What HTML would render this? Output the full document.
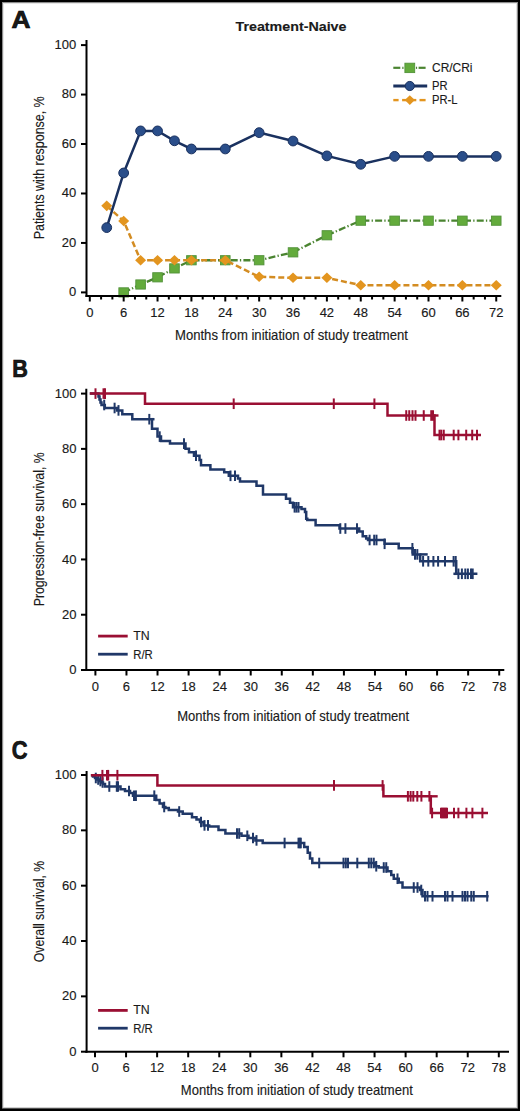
<!DOCTYPE html>
<html><head><meta charset="utf-8"><title>Figure</title>
<style>
html,body{margin:0;padding:0;background:#fff;}
body{width:520px;height:1111px;overflow:hidden;}
svg{display:block;font-family:"Liberation Sans", sans-serif;fill:#1a1a1a;}
svg text{fill:#1a1a1a;stroke:#1a1a1a;stroke-width:0.15px;}
</style></head>
<body>
<svg width="520" height="1111" viewBox="0 0 520 1111">
<rect x="0" y="0" width="520" height="1111" fill="#fff"/>
<g shape-rendering="crispEdges">
<rect x="0" y="3" width="520" height="1" fill="#e6e6e6"/>
<rect x="3" y="0" width="1" height="1111" fill="#e6e6e6"/>
<rect x="516" y="0" width="1" height="1111" fill="#e0e0e0"/>
<rect x="0" y="1107" width="520" height="1" fill="#d0d0d0"/>
<rect x="0" y="2" width="520" height="1" fill="#8c8c8c"/>
<rect x="2" y="0" width="1" height="1111" fill="#8c8c8c"/>
<rect x="517" y="0" width="1" height="1111" fill="#888"/>
<rect x="0" y="1108" width="520" height="1" fill="#505050"/>
<rect x="0" y="0" width="520" height="2" fill="#000"/>
<rect x="0" y="0" width="2" height="1111" fill="#000"/>
<rect x="518" y="0" width="2" height="1111" fill="#000"/>
<rect x="0" y="1109" width="520" height="2" fill="#000"/>
</g>
<text x="11.6" y="28.3" font-size="24" text-anchor="start" font-weight="bold" textLength="19" lengthAdjust="spacingAndGlyphs" style="stroke:#000;stroke-width:0.7px">A</text>
<text x="291" y="31.2" font-size="13.4" text-anchor="middle" font-weight="bold" textLength="111" lengthAdjust="spacingAndGlyphs" >Treatment-Naive</text>
<polyline points="123.67,292.4 140.6,284.49 157.54,277.31 174.47,268.41 191.41,260.25 225.28,260.25 259.15,260.25 293.02,252.34 326.89,235.27 360.76,220.68 394.63,220.68 428.5,220.68 462.37,220.68 496.24,220.68" fill="none" stroke="#4a8430" stroke-width="2.3" stroke-dasharray="7 2.2 1.3 2.2"/>
<rect x="118.87" y="287.8" width="9.6" height="9.2" fill="#63ab3c" stroke="#52923a" stroke-width="0.9"/>
<rect x="135.8" y="279.89" width="9.6" height="9.2" fill="#63ab3c" stroke="#52923a" stroke-width="0.9"/>
<rect x="152.74" y="272.71" width="9.6" height="9.2" fill="#63ab3c" stroke="#52923a" stroke-width="0.9"/>
<rect x="169.67" y="263.81" width="9.6" height="9.2" fill="#63ab3c" stroke="#52923a" stroke-width="0.9"/>
<rect x="186.61" y="255.65" width="9.6" height="9.2" fill="#63ab3c" stroke="#52923a" stroke-width="0.9"/>
<rect x="220.48" y="255.65" width="9.6" height="9.2" fill="#63ab3c" stroke="#52923a" stroke-width="0.9"/>
<rect x="254.35" y="255.65" width="9.6" height="9.2" fill="#63ab3c" stroke="#52923a" stroke-width="0.9"/>
<rect x="288.22" y="247.74" width="9.6" height="9.2" fill="#63ab3c" stroke="#52923a" stroke-width="0.9"/>
<rect x="322.09" y="230.67" width="9.6" height="9.2" fill="#63ab3c" stroke="#52923a" stroke-width="0.9"/>
<rect x="355.96" y="216.08" width="9.6" height="9.2" fill="#63ab3c" stroke="#52923a" stroke-width="0.9"/>
<rect x="389.83" y="216.08" width="9.6" height="9.2" fill="#63ab3c" stroke="#52923a" stroke-width="0.9"/>
<rect x="423.7" y="216.08" width="9.6" height="9.2" fill="#63ab3c" stroke="#52923a" stroke-width="0.9"/>
<rect x="457.57" y="216.08" width="9.6" height="9.2" fill="#63ab3c" stroke="#52923a" stroke-width="0.9"/>
<rect x="491.44" y="216.08" width="9.6" height="9.2" fill="#63ab3c" stroke="#52923a" stroke-width="0.9"/>
<polyline points="106.73,205.84 123.67,220.93 140.6,260.25 157.54,260.25 174.47,260.25 191.41,260.25 225.28,260.25 259.15,276.82 293.02,277.81 326.89,277.81 360.76,285.23 394.63,285.23 428.5,285.23 462.37,285.23 496.24,285.23" fill="none" stroke="#d38c22" stroke-width="2.5" stroke-dasharray="6 3"/>
<polygon points="106.73,200.54 112.23,205.84 106.73,211.14 101.23,205.84" fill="#e3951f"/>
<polygon points="123.67,215.63 129.17,220.93 123.67,226.23 118.17,220.93" fill="#e3951f"/>
<polygon points="140.6,254.95 146.1,260.25 140.6,265.55 135.1,260.25" fill="#e3951f"/>
<polygon points="157.54,254.95 163.04,260.25 157.54,265.55 152.04,260.25" fill="#e3951f"/>
<polygon points="174.47,254.95 179.97,260.25 174.47,265.55 168.97,260.25" fill="#e3951f"/>
<polygon points="191.41,254.95 196.91,260.25 191.41,265.55 185.91,260.25" fill="#e3951f"/>
<polygon points="225.28,254.95 230.78,260.25 225.28,265.55 219.78,260.25" fill="#e3951f"/>
<polygon points="259.15,271.52 264.65,276.82 259.15,282.12 253.65,276.82" fill="#e3951f"/>
<polygon points="293.02,272.51 298.52,277.81 293.02,283.11 287.52,277.81" fill="#e3951f"/>
<polygon points="326.89,272.51 332.39,277.81 326.89,283.11 321.39,277.81" fill="#e3951f"/>
<polygon points="360.76,279.93 366.26,285.23 360.76,290.53 355.26,285.23" fill="#e3951f"/>
<polygon points="394.63,279.93 400.13,285.23 394.63,290.53 389.13,285.23" fill="#e3951f"/>
<polygon points="428.5,279.93 434,285.23 428.5,290.53 423,285.23" fill="#e3951f"/>
<polygon points="462.37,279.93 467.87,285.23 462.37,290.53 456.87,285.23" fill="#e3951f"/>
<polygon points="496.24,279.93 501.74,285.23 496.24,290.53 490.74,285.23" fill="#e3951f"/>
<polyline points="106.73,227.61 123.67,172.95 140.6,130.91 157.54,130.91 174.47,140.81 191.41,148.97 225.28,148.97 259.15,132.64 293.02,141.05 326.89,155.89 360.76,164.3 394.63,156.38 428.5,156.38 462.37,156.38 496.24,156.38" fill="none" stroke="#1a315f" stroke-width="2.5"/>
<circle cx="106.73" cy="227.61" r="4.9" fill="#2a4e8a" stroke="#1a315f" stroke-width="1"/>
<circle cx="123.67" cy="172.95" r="4.9" fill="#2a4e8a" stroke="#1a315f" stroke-width="1"/>
<circle cx="140.6" cy="130.91" r="4.9" fill="#2a4e8a" stroke="#1a315f" stroke-width="1"/>
<circle cx="157.54" cy="130.91" r="4.9" fill="#2a4e8a" stroke="#1a315f" stroke-width="1"/>
<circle cx="174.47" cy="140.81" r="4.9" fill="#2a4e8a" stroke="#1a315f" stroke-width="1"/>
<circle cx="191.41" cy="148.97" r="4.9" fill="#2a4e8a" stroke="#1a315f" stroke-width="1"/>
<circle cx="225.28" cy="148.97" r="4.9" fill="#2a4e8a" stroke="#1a315f" stroke-width="1"/>
<circle cx="259.15" cy="132.64" r="4.9" fill="#2a4e8a" stroke="#1a315f" stroke-width="1"/>
<circle cx="293.02" cy="141.05" r="4.9" fill="#2a4e8a" stroke="#1a315f" stroke-width="1"/>
<circle cx="326.89" cy="155.89" r="4.9" fill="#2a4e8a" stroke="#1a315f" stroke-width="1"/>
<circle cx="360.76" cy="164.3" r="4.9" fill="#2a4e8a" stroke="#1a315f" stroke-width="1"/>
<circle cx="394.63" cy="156.38" r="4.9" fill="#2a4e8a" stroke="#1a315f" stroke-width="1"/>
<circle cx="428.5" cy="156.38" r="4.9" fill="#2a4e8a" stroke="#1a315f" stroke-width="1"/>
<circle cx="462.37" cy="156.38" r="4.9" fill="#2a4e8a" stroke="#1a315f" stroke-width="1"/>
<circle cx="496.24" cy="156.38" r="4.9" fill="#2a4e8a" stroke="#1a315f" stroke-width="1"/>
<line x1="86.5" y1="40" x2="86.5" y2="297" stroke="#000" stroke-width="2" />
<line x1="81" y1="292.4" x2="86.5" y2="292.4" stroke="#000" stroke-width="2" />
<text x="76.3" y="296.2" font-size="13" text-anchor="end" font-weight="normal" >0</text>
<line x1="81" y1="242.94" x2="86.5" y2="242.94" stroke="#000" stroke-width="2" />
<text x="76.3" y="246.74" font-size="13" text-anchor="end" font-weight="normal" >20</text>
<line x1="81" y1="193.48" x2="86.5" y2="193.48" stroke="#000" stroke-width="2" />
<text x="76.3" y="197.28" font-size="13" text-anchor="end" font-weight="normal" >40</text>
<line x1="81" y1="144.02" x2="86.5" y2="144.02" stroke="#000" stroke-width="2" />
<text x="76.3" y="147.82" font-size="13" text-anchor="end" font-weight="normal" >60</text>
<line x1="81" y1="94.56" x2="86.5" y2="94.56" stroke="#000" stroke-width="2" />
<text x="76.3" y="98.36" font-size="13" text-anchor="end" font-weight="normal" >80</text>
<line x1="81" y1="45.1" x2="86.5" y2="45.1" stroke="#000" stroke-width="2" />
<text x="76.3" y="48.9" font-size="13" text-anchor="end" font-weight="normal" >100</text>
<line x1="85.5" y1="296" x2="501.3" y2="296" stroke="#000" stroke-width="2" />
<line x1="89.8" y1="296" x2="89.8" y2="301.5" stroke="#000" stroke-width="2" />
<text x="89.8" y="317" font-size="13" text-anchor="middle" font-weight="normal" >0</text>
<line x1="101.09" y1="296" x2="101.09" y2="299.5" stroke="#000" stroke-width="2" />
<line x1="112.38" y1="296" x2="112.38" y2="299.5" stroke="#000" stroke-width="2" />
<line x1="123.67" y1="296" x2="123.67" y2="301.5" stroke="#000" stroke-width="2" />
<text x="123.67" y="317" font-size="13" text-anchor="middle" font-weight="normal" >6</text>
<line x1="134.96" y1="296" x2="134.96" y2="299.5" stroke="#000" stroke-width="2" />
<line x1="146.25" y1="296" x2="146.25" y2="299.5" stroke="#000" stroke-width="2" />
<line x1="157.54" y1="296" x2="157.54" y2="301.5" stroke="#000" stroke-width="2" />
<text x="157.54" y="317" font-size="13" text-anchor="middle" font-weight="normal" >12</text>
<line x1="168.83" y1="296" x2="168.83" y2="299.5" stroke="#000" stroke-width="2" />
<line x1="180.12" y1="296" x2="180.12" y2="299.5" stroke="#000" stroke-width="2" />
<line x1="191.41" y1="296" x2="191.41" y2="301.5" stroke="#000" stroke-width="2" />
<text x="191.41" y="317" font-size="13" text-anchor="middle" font-weight="normal" >18</text>
<line x1="202.7" y1="296" x2="202.7" y2="299.5" stroke="#000" stroke-width="2" />
<line x1="213.99" y1="296" x2="213.99" y2="299.5" stroke="#000" stroke-width="2" />
<line x1="225.28" y1="296" x2="225.28" y2="301.5" stroke="#000" stroke-width="2" />
<text x="225.28" y="317" font-size="13" text-anchor="middle" font-weight="normal" >24</text>
<line x1="236.57" y1="296" x2="236.57" y2="299.5" stroke="#000" stroke-width="2" />
<line x1="247.86" y1="296" x2="247.86" y2="299.5" stroke="#000" stroke-width="2" />
<line x1="259.15" y1="296" x2="259.15" y2="301.5" stroke="#000" stroke-width="2" />
<text x="259.15" y="317" font-size="13" text-anchor="middle" font-weight="normal" >30</text>
<line x1="270.44" y1="296" x2="270.44" y2="299.5" stroke="#000" stroke-width="2" />
<line x1="281.73" y1="296" x2="281.73" y2="299.5" stroke="#000" stroke-width="2" />
<line x1="293.02" y1="296" x2="293.02" y2="301.5" stroke="#000" stroke-width="2" />
<text x="293.02" y="317" font-size="13" text-anchor="middle" font-weight="normal" >36</text>
<line x1="304.31" y1="296" x2="304.31" y2="299.5" stroke="#000" stroke-width="2" />
<line x1="315.6" y1="296" x2="315.6" y2="299.5" stroke="#000" stroke-width="2" />
<line x1="326.89" y1="296" x2="326.89" y2="301.5" stroke="#000" stroke-width="2" />
<text x="326.89" y="317" font-size="13" text-anchor="middle" font-weight="normal" >42</text>
<line x1="338.18" y1="296" x2="338.18" y2="299.5" stroke="#000" stroke-width="2" />
<line x1="349.47" y1="296" x2="349.47" y2="299.5" stroke="#000" stroke-width="2" />
<line x1="360.76" y1="296" x2="360.76" y2="301.5" stroke="#000" stroke-width="2" />
<text x="360.76" y="317" font-size="13" text-anchor="middle" font-weight="normal" >48</text>
<line x1="372.05" y1="296" x2="372.05" y2="299.5" stroke="#000" stroke-width="2" />
<line x1="383.34" y1="296" x2="383.34" y2="299.5" stroke="#000" stroke-width="2" />
<line x1="394.63" y1="296" x2="394.63" y2="301.5" stroke="#000" stroke-width="2" />
<text x="394.63" y="317" font-size="13" text-anchor="middle" font-weight="normal" >54</text>
<line x1="405.92" y1="296" x2="405.92" y2="299.5" stroke="#000" stroke-width="2" />
<line x1="417.21" y1="296" x2="417.21" y2="299.5" stroke="#000" stroke-width="2" />
<line x1="428.5" y1="296" x2="428.5" y2="301.5" stroke="#000" stroke-width="2" />
<text x="428.5" y="317" font-size="13" text-anchor="middle" font-weight="normal" >60</text>
<line x1="439.79" y1="296" x2="439.79" y2="299.5" stroke="#000" stroke-width="2" />
<line x1="451.08" y1="296" x2="451.08" y2="299.5" stroke="#000" stroke-width="2" />
<line x1="462.37" y1="296" x2="462.37" y2="301.5" stroke="#000" stroke-width="2" />
<text x="462.37" y="317" font-size="13" text-anchor="middle" font-weight="normal" >66</text>
<line x1="473.66" y1="296" x2="473.66" y2="299.5" stroke="#000" stroke-width="2" />
<line x1="484.95" y1="296" x2="484.95" y2="299.5" stroke="#000" stroke-width="2" />
<line x1="496.24" y1="296" x2="496.24" y2="301.5" stroke="#000" stroke-width="2" />
<text x="496.24" y="317" font-size="13" text-anchor="middle" font-weight="normal" >72</text>
<text transform="translate(44.4,167.85) rotate(-90)" x="0" y="0" font-size="15" text-anchor="middle" textLength="142.9" lengthAdjust="spacingAndGlyphs">Patients with response, %</text>
<text x="291.5" y="339.8" font-size="14.3" text-anchor="middle" font-weight="normal" textLength="233" lengthAdjust="spacingAndGlyphs" >Months from initiation of study treatment</text>
<line x1="393.3" y1="67.8" x2="400.3" y2="67.8" stroke="#4a8430" stroke-width="2.2" />
<line x1="402.3" y1="67.8" x2="403.5" y2="67.8" stroke="#4a8430" stroke-width="2.2" />
<line x1="415.9" y1="67.8" x2="417.1" y2="67.8" stroke="#4a8430" stroke-width="2.2" />
<line x1="418.6" y1="67.8" x2="425.6" y2="67.8" stroke="#4a8430" stroke-width="2.2" />
<rect x="404.9" y="63.2" width="9.8" height="9.4" fill="#63ab3c" stroke="#52923a" stroke-width="0.9"/>
<text x="432" y="72.4" font-size="13" text-anchor="start" font-weight="normal" textLength="40.5" lengthAdjust="spacingAndGlyphs" >CR/CRi</text>
<line x1="393.3" y1="86" x2="427.2" y2="86" stroke="#1a315f" stroke-width="3" />
<circle cx="409.8" cy="86" r="4.6" fill="#2a4e8a" stroke="#1a315f" stroke-width="1"/>
<text x="432" y="90.2" font-size="13" text-anchor="start" font-weight="normal" textLength="15.5" lengthAdjust="spacingAndGlyphs" >PR</text>
<line x1="393.3" y1="100.1" x2="398.6" y2="100.1" stroke="#e3951f" stroke-width="2.4" />
<line x1="402.1" y1="100.1" x2="416.3" y2="100.1" stroke="#e3951f" stroke-width="2.4" />
<line x1="419.5" y1="100.1" x2="425.6" y2="100.1" stroke="#e3951f" stroke-width="2.4" />
<polygon points="409.8,95.3 414.8,100.1 409.8,104.9 404.8,100.1" fill="#e3951f"/>
<text x="432" y="103.8" font-size="13" text-anchor="start" font-weight="normal" textLength="25.5" lengthAdjust="spacingAndGlyphs" >PR-L</text>
<text x="12.3" y="376.9" font-size="23.5" text-anchor="start" font-weight="bold" textLength="15.6" lengthAdjust="spacingAndGlyphs" style="stroke:#000;stroke-width:0.7px">B</text>
<line x1="86.3" y1="388.7" x2="86.3" y2="671" stroke="#000" stroke-width="2" />
<line x1="81" y1="670" x2="86.3" y2="670" stroke="#000" stroke-width="2" />
<text x="76.5" y="674.2" font-size="13" text-anchor="end" font-weight="normal" >0</text>
<line x1="81" y1="614.72" x2="86.3" y2="614.72" stroke="#000" stroke-width="2" />
<text x="76.5" y="618.92" font-size="13" text-anchor="end" font-weight="normal" >20</text>
<line x1="81" y1="559.44" x2="86.3" y2="559.44" stroke="#000" stroke-width="2" />
<text x="76.5" y="563.64" font-size="13" text-anchor="end" font-weight="normal" >40</text>
<line x1="81" y1="504.16" x2="86.3" y2="504.16" stroke="#000" stroke-width="2" />
<text x="76.5" y="508.36" font-size="13" text-anchor="end" font-weight="normal" >60</text>
<line x1="81" y1="448.88" x2="86.3" y2="448.88" stroke="#000" stroke-width="2" />
<text x="76.5" y="453.08" font-size="13" text-anchor="end" font-weight="normal" >80</text>
<line x1="81" y1="393.6" x2="86.3" y2="393.6" stroke="#000" stroke-width="2" />
<text x="76.5" y="397.8" font-size="13" text-anchor="end" font-weight="normal" >100</text>
<line x1="85.3" y1="670" x2="504.3" y2="670" stroke="#000" stroke-width="2" />
<line x1="95.4" y1="670" x2="95.4" y2="675.5" stroke="#000" stroke-width="2" />
<text x="95.4" y="690.9" font-size="13" text-anchor="middle" font-weight="normal" >0</text>
<line x1="126.46" y1="670" x2="126.46" y2="675.5" stroke="#000" stroke-width="2" />
<text x="126.46" y="690.9" font-size="13" text-anchor="middle" font-weight="normal" >6</text>
<line x1="157.52" y1="670" x2="157.52" y2="675.5" stroke="#000" stroke-width="2" />
<text x="157.52" y="690.9" font-size="13" text-anchor="middle" font-weight="normal" >12</text>
<line x1="188.59" y1="670" x2="188.59" y2="675.5" stroke="#000" stroke-width="2" />
<text x="188.59" y="690.9" font-size="13" text-anchor="middle" font-weight="normal" >18</text>
<line x1="219.65" y1="670" x2="219.65" y2="675.5" stroke="#000" stroke-width="2" />
<text x="219.65" y="690.9" font-size="13" text-anchor="middle" font-weight="normal" >24</text>
<line x1="250.71" y1="670" x2="250.71" y2="675.5" stroke="#000" stroke-width="2" />
<text x="250.71" y="690.9" font-size="13" text-anchor="middle" font-weight="normal" >30</text>
<line x1="281.77" y1="670" x2="281.77" y2="675.5" stroke="#000" stroke-width="2" />
<text x="281.77" y="690.9" font-size="13" text-anchor="middle" font-weight="normal" >36</text>
<line x1="312.83" y1="670" x2="312.83" y2="675.5" stroke="#000" stroke-width="2" />
<text x="312.83" y="690.9" font-size="13" text-anchor="middle" font-weight="normal" >42</text>
<line x1="343.9" y1="670" x2="343.9" y2="675.5" stroke="#000" stroke-width="2" />
<text x="343.9" y="690.9" font-size="13" text-anchor="middle" font-weight="normal" >48</text>
<line x1="374.96" y1="670" x2="374.96" y2="675.5" stroke="#000" stroke-width="2" />
<text x="374.96" y="690.9" font-size="13" text-anchor="middle" font-weight="normal" >54</text>
<line x1="406.02" y1="670" x2="406.02" y2="675.5" stroke="#000" stroke-width="2" />
<text x="406.02" y="690.9" font-size="13" text-anchor="middle" font-weight="normal" >60</text>
<line x1="437.08" y1="670" x2="437.08" y2="675.5" stroke="#000" stroke-width="2" />
<text x="437.08" y="690.9" font-size="13" text-anchor="middle" font-weight="normal" >66</text>
<line x1="468.14" y1="670" x2="468.14" y2="675.5" stroke="#000" stroke-width="2" />
<text x="468.14" y="690.9" font-size="13" text-anchor="middle" font-weight="normal" >72</text>
<line x1="499.21" y1="670" x2="499.21" y2="675.5" stroke="#000" stroke-width="2" />
<text x="499.21" y="690.9" font-size="13" text-anchor="middle" font-weight="normal" >78</text>
<text transform="translate(44.4,529.3) rotate(-90)" x="0" y="0" font-size="15" text-anchor="middle" textLength="154" lengthAdjust="spacingAndGlyphs">Progression-free survival, %</text>
<text x="293.2" y="721.1" font-size="14.3" text-anchor="middle" font-weight="normal" textLength="232" lengthAdjust="spacingAndGlyphs" >Months from initiation of study treatment</text>
<line x1="98.1" y1="636.1" x2="127.7" y2="636.1" stroke="#9a0f33" stroke-width="2.8" />
<text x="133.3" y="640" font-size="13" text-anchor="start" font-weight="normal" textLength="16.5" lengthAdjust="spacingAndGlyphs" >TN</text>
<line x1="98.1" y1="654.2" x2="127.7" y2="654.2" stroke="#203868" stroke-width="2.8" />
<text x="133.3" y="658.6" font-size="13" text-anchor="start" font-weight="normal" textLength="19.5" lengthAdjust="spacingAndGlyphs" >R/R</text>
<path d="M89.8 393.6 H98.5 V396.5 H99.5 V399.5 H100.5 V402.5 H101.5 V405 H104.8 V408 H117 V410.4 H122.3 V414.2 H132.3 V419.2 H152 V428.8 H157.5 V436.6 H161 V441 H170 V443.6 H185.5 V448.8 H189 V452.2 H194 V455.7 H199.5 V460 H201 V465.2 H210.4 V469.5 H224.2 V472.3 H228.8 V475.8 H238 V478.5 H240 V481.5 H256.5 V485.7 H263 V494.5 H286 V498.8 H290 V502.7 H293 V507.3 H301.5 V509 H305 V512 H306.2 V518.8 H307.3 V520 H315.6 V525.2 H339.5 V528.5 H359.2 V531.5 H362.7 V536.2 H366.2 V538.5 H368 V540 H384.6 V543.8 H398.7 V548.3 H412.7 V554.4 H420.2 V561.3 H456.2 V573.8 H477.4" fill="none" stroke="#203868" stroke-width="2.5" stroke-linejoin="miter" stroke-linecap="butt"/>
<line x1="419.5" y1="554.4" x2="427.7" y2="554.4" stroke="#203868" stroke-width="2.5" />
<line x1="151" y1="419.2" x2="154.5" y2="419.2" stroke="#203868" stroke-width="2.5" />
<line x1="453.4" y1="573.8" x2="457" y2="573.8" stroke="#203868" stroke-width="2.5" />
<line x1="104.2" y1="399.7" x2="104.2" y2="410.3" stroke="#203868" stroke-width="2" />
<line x1="114.6" y1="402.7" x2="114.6" y2="413.3" stroke="#203868" stroke-width="2" />
<line x1="118.5" y1="405.1" x2="118.5" y2="415.7" stroke="#203868" stroke-width="2" />
<line x1="149.3" y1="413.9" x2="149.3" y2="424.5" stroke="#203868" stroke-width="2" />
<line x1="159.7" y1="431.3" x2="159.7" y2="441.9" stroke="#203868" stroke-width="2" />
<line x1="184" y1="438.3" x2="184" y2="448.9" stroke="#203868" stroke-width="2" />
<line x1="196" y1="450.4" x2="196" y2="461" stroke="#203868" stroke-width="2" />
<line x1="230.5" y1="470.5" x2="230.5" y2="481.1" stroke="#203868" stroke-width="2" />
<line x1="235" y1="470.5" x2="235" y2="481.1" stroke="#203868" stroke-width="2" />
<line x1="294.6" y1="502" x2="294.6" y2="512.6" stroke="#203868" stroke-width="2" />
<line x1="296.5" y1="502" x2="296.5" y2="512.6" stroke="#203868" stroke-width="2" />
<line x1="298.5" y1="502" x2="298.5" y2="512.6" stroke="#203868" stroke-width="2" />
<line x1="340.3" y1="523.2" x2="340.3" y2="533.8" stroke="#203868" stroke-width="2" />
<line x1="345.4" y1="523.2" x2="345.4" y2="533.8" stroke="#203868" stroke-width="2" />
<line x1="357" y1="523.2" x2="357" y2="533.8" stroke="#203868" stroke-width="2" />
<line x1="369.6" y1="534.7" x2="369.6" y2="545.3" stroke="#203868" stroke-width="2" />
<line x1="374.2" y1="534.7" x2="374.2" y2="545.3" stroke="#203868" stroke-width="2" />
<line x1="376.5" y1="534.7" x2="376.5" y2="545.3" stroke="#203868" stroke-width="2" />
<line x1="384.6" y1="538.5" x2="384.6" y2="549.1" stroke="#203868" stroke-width="2" />
<line x1="412.4" y1="543" x2="412.4" y2="553.6" stroke="#203868" stroke-width="2" />
<line x1="415" y1="549.1" x2="415" y2="559.7" stroke="#203868" stroke-width="2" />
<line x1="417.3" y1="549.1" x2="417.3" y2="559.7" stroke="#203868" stroke-width="2" />
<line x1="423.1" y1="556" x2="423.1" y2="566.6" stroke="#203868" stroke-width="2" />
<line x1="428.3" y1="556" x2="428.3" y2="566.6" stroke="#203868" stroke-width="2" />
<line x1="433.4" y1="556" x2="433.4" y2="566.6" stroke="#203868" stroke-width="2" />
<line x1="438.1" y1="556" x2="438.1" y2="566.6" stroke="#203868" stroke-width="2" />
<line x1="445" y1="556" x2="445" y2="566.6" stroke="#203868" stroke-width="2" />
<line x1="453.6" y1="556" x2="453.6" y2="566.6" stroke="#203868" stroke-width="2" />
<line x1="455.7" y1="556" x2="455.7" y2="566.6" stroke="#203868" stroke-width="2" />
<line x1="458.4" y1="568.5" x2="458.4" y2="579.1" stroke="#203868" stroke-width="2" />
<line x1="461.9" y1="568.5" x2="461.9" y2="579.1" stroke="#203868" stroke-width="2" />
<line x1="465.3" y1="568.5" x2="465.3" y2="579.1" stroke="#203868" stroke-width="2" />
<line x1="467.9" y1="568.5" x2="467.9" y2="579.1" stroke="#203868" stroke-width="2" />
<line x1="471" y1="568.5" x2="471" y2="579.1" stroke="#203868" stroke-width="2" />
<line x1="472.7" y1="568.5" x2="472.7" y2="579.1" stroke="#203868" stroke-width="2" />
<path d="M89.8 393.6 H145 V403.75 H387.5 V415.5 H434.5 V435 H481" fill="none" stroke="#9a0f33" stroke-width="2.5" stroke-linejoin="miter" stroke-linecap="butt"/>
<line x1="434" y1="415.5" x2="438.5" y2="415.5" stroke="#9a0f33" stroke-width="2.4" />
<line x1="95.5" y1="388.3" x2="95.5" y2="398.9" stroke="#9a0f33" stroke-width="2" />
<line x1="103.5" y1="388.3" x2="103.5" y2="398.9" stroke="#9a0f33" stroke-width="2" />
<line x1="105" y1="388.3" x2="105" y2="398.9" stroke="#9a0f33" stroke-width="2" />
<line x1="233.7" y1="398.45" x2="233.7" y2="409.05" stroke="#9a0f33" stroke-width="2" />
<line x1="333.8" y1="398.45" x2="333.8" y2="409.05" stroke="#9a0f33" stroke-width="2" />
<line x1="374.4" y1="398.45" x2="374.4" y2="409.05" stroke="#9a0f33" stroke-width="2" />
<line x1="406.25" y1="410.2" x2="406.25" y2="420.8" stroke="#9a0f33" stroke-width="2" />
<line x1="409.25" y1="410.2" x2="409.25" y2="420.8" stroke="#9a0f33" stroke-width="2" />
<line x1="412.5" y1="410.2" x2="412.5" y2="420.8" stroke="#9a0f33" stroke-width="2" />
<line x1="415.5" y1="410.2" x2="415.5" y2="420.8" stroke="#9a0f33" stroke-width="2" />
<line x1="423.75" y1="410.2" x2="423.75" y2="420.8" stroke="#9a0f33" stroke-width="2" />
<line x1="431.25" y1="410.2" x2="431.25" y2="420.8" stroke="#9a0f33" stroke-width="2" />
<line x1="433" y1="410.2" x2="433" y2="420.8" stroke="#9a0f33" stroke-width="2" />
<line x1="439.5" y1="429.7" x2="439.5" y2="440.3" stroke="#9a0f33" stroke-width="2" />
<line x1="441.25" y1="429.7" x2="441.25" y2="440.3" stroke="#9a0f33" stroke-width="2" />
<line x1="443.75" y1="429.7" x2="443.75" y2="440.3" stroke="#9a0f33" stroke-width="2" />
<line x1="453.7" y1="429.7" x2="453.7" y2="440.3" stroke="#9a0f33" stroke-width="2" />
<line x1="458.4" y1="429.7" x2="458.4" y2="440.3" stroke="#9a0f33" stroke-width="2" />
<line x1="466.2" y1="429.7" x2="466.2" y2="440.3" stroke="#9a0f33" stroke-width="2" />
<line x1="472.2" y1="429.7" x2="472.2" y2="440.3" stroke="#9a0f33" stroke-width="2" />
<line x1="477" y1="429.7" x2="477" y2="440.3" stroke="#9a0f33" stroke-width="2" />
<text x="11.8" y="758.9" font-size="25.5" text-anchor="start" font-weight="bold" textLength="15.8" lengthAdjust="spacingAndGlyphs" style="stroke:#000;stroke-width:0.7px">C</text>
<line x1="86.6" y1="771" x2="86.6" y2="1052.8" stroke="#000" stroke-width="2" />
<line x1="81" y1="1051.7" x2="86.6" y2="1051.7" stroke="#000" stroke-width="2" />
<text x="76.5" y="1055.8" font-size="13" text-anchor="end" font-weight="normal" >0</text>
<line x1="81" y1="996.36" x2="86.6" y2="996.36" stroke="#000" stroke-width="2" />
<text x="76.5" y="1000.46" font-size="13" text-anchor="end" font-weight="normal" >20</text>
<line x1="81" y1="941.02" x2="86.6" y2="941.02" stroke="#000" stroke-width="2" />
<text x="76.5" y="945.12" font-size="13" text-anchor="end" font-weight="normal" >40</text>
<line x1="81" y1="885.68" x2="86.6" y2="885.68" stroke="#000" stroke-width="2" />
<text x="76.5" y="889.78" font-size="13" text-anchor="end" font-weight="normal" >60</text>
<line x1="81" y1="830.34" x2="86.6" y2="830.34" stroke="#000" stroke-width="2" />
<text x="76.5" y="834.44" font-size="13" text-anchor="end" font-weight="normal" >80</text>
<line x1="81" y1="775" x2="86.6" y2="775" stroke="#000" stroke-width="2" />
<text x="76.5" y="779.1" font-size="13" text-anchor="end" font-weight="normal" >100</text>
<line x1="85.3" y1="1051.8" x2="509" y2="1051.8" stroke="#000" stroke-width="2" />
<line x1="95" y1="1051.8" x2="95" y2="1057.3" stroke="#000" stroke-width="2" />
<text x="95" y="1072.4" font-size="13" text-anchor="middle" font-weight="normal" >0</text>
<line x1="126.06" y1="1051.8" x2="126.06" y2="1057.3" stroke="#000" stroke-width="2" />
<text x="126.06" y="1072.4" font-size="13" text-anchor="middle" font-weight="normal" >6</text>
<line x1="157.12" y1="1051.8" x2="157.12" y2="1057.3" stroke="#000" stroke-width="2" />
<text x="157.12" y="1072.4" font-size="13" text-anchor="middle" font-weight="normal" >12</text>
<line x1="188.19" y1="1051.8" x2="188.19" y2="1057.3" stroke="#000" stroke-width="2" />
<text x="188.19" y="1072.4" font-size="13" text-anchor="middle" font-weight="normal" >18</text>
<line x1="219.25" y1="1051.8" x2="219.25" y2="1057.3" stroke="#000" stroke-width="2" />
<text x="219.25" y="1072.4" font-size="13" text-anchor="middle" font-weight="normal" >24</text>
<line x1="250.31" y1="1051.8" x2="250.31" y2="1057.3" stroke="#000" stroke-width="2" />
<text x="250.31" y="1072.4" font-size="13" text-anchor="middle" font-weight="normal" >30</text>
<line x1="281.37" y1="1051.8" x2="281.37" y2="1057.3" stroke="#000" stroke-width="2" />
<text x="281.37" y="1072.4" font-size="13" text-anchor="middle" font-weight="normal" >36</text>
<line x1="312.43" y1="1051.8" x2="312.43" y2="1057.3" stroke="#000" stroke-width="2" />
<text x="312.43" y="1072.4" font-size="13" text-anchor="middle" font-weight="normal" >42</text>
<line x1="343.5" y1="1051.8" x2="343.5" y2="1057.3" stroke="#000" stroke-width="2" />
<text x="343.5" y="1072.4" font-size="13" text-anchor="middle" font-weight="normal" >48</text>
<line x1="374.56" y1="1051.8" x2="374.56" y2="1057.3" stroke="#000" stroke-width="2" />
<text x="374.56" y="1072.4" font-size="13" text-anchor="middle" font-weight="normal" >54</text>
<line x1="405.62" y1="1051.8" x2="405.62" y2="1057.3" stroke="#000" stroke-width="2" />
<text x="405.62" y="1072.4" font-size="13" text-anchor="middle" font-weight="normal" >60</text>
<line x1="436.68" y1="1051.8" x2="436.68" y2="1057.3" stroke="#000" stroke-width="2" />
<text x="436.68" y="1072.4" font-size="13" text-anchor="middle" font-weight="normal" >66</text>
<line x1="467.74" y1="1051.8" x2="467.74" y2="1057.3" stroke="#000" stroke-width="2" />
<text x="467.74" y="1072.4" font-size="13" text-anchor="middle" font-weight="normal" >72</text>
<line x1="498.81" y1="1051.8" x2="498.81" y2="1057.3" stroke="#000" stroke-width="2" />
<text x="498.81" y="1072.4" font-size="13" text-anchor="middle" font-weight="normal" >78</text>
<text transform="translate(44.4,911.5) rotate(-90)" x="0" y="0" font-size="15" text-anchor="middle" textLength="101.3" lengthAdjust="spacingAndGlyphs">Overall survival, %</text>
<text x="296.8" y="1095.3" font-size="14.3" text-anchor="middle" font-weight="normal" textLength="232" lengthAdjust="spacingAndGlyphs" >Months from initiation of study treatment</text>
<line x1="98.1" y1="1010.4" x2="127.7" y2="1010.4" stroke="#9a0f33" stroke-width="2.8" />
<text x="133.3" y="1013.7" font-size="13" text-anchor="start" font-weight="normal" textLength="16.5" lengthAdjust="spacingAndGlyphs" >TN</text>
<line x1="98.1" y1="1028.2" x2="127.7" y2="1028.2" stroke="#203868" stroke-width="2.8" />
<text x="133.3" y="1032.7" font-size="13" text-anchor="start" font-weight="normal" textLength="19.5" lengthAdjust="spacingAndGlyphs" >R/R</text>
<path d="M90.9 775.2 H93 V776.5 H95 V778 H97 V779.5 H99 V781 H101 V782.5 H103 V784 H105 V786.5 H120.5 V789.3 H125 V791 H130 V793 H133 V795.7 H156.2 V800 H159.6 V803.5 H163 V807 H165.4 V808 H168.8 V810 H178 V811.5 H182.7 V813.8 H192 V817.3 H196.5 V819.6 H200 V822 H203.5 V825.4 H209.2 V826.5 H218.5 V830 H225.4 V833.5 H241.5 V835.8 H248.5 V838 H255.4 V840.4 H262.7 V843 H304.2 V847 H307.7 V852.7 H310 V858.5 H312.3 V863 H375 V866.25 H378.75 V867.5 H387.5 V871.25 H391.25 V875 H393.75 V878.75 H398.75 V882.5 H402.5 V887.5 H420 V890 H422.5 V896.25 H488.6" fill="none" stroke="#203868" stroke-width="2.5" stroke-linejoin="miter" stroke-linecap="butt"/>
<line x1="95.8" y1="772.7" x2="95.8" y2="783.3" stroke="#203868" stroke-width="2" />
<line x1="98.2" y1="774.2" x2="98.2" y2="784.8" stroke="#203868" stroke-width="2" />
<line x1="100.4" y1="775.7" x2="100.4" y2="786.3" stroke="#203868" stroke-width="2" />
<line x1="102.6" y1="777.2" x2="102.6" y2="787.8" stroke="#203868" stroke-width="2" />
<line x1="109.3" y1="781.2" x2="109.3" y2="791.8" stroke="#203868" stroke-width="2" />
<line x1="116.8" y1="781.2" x2="116.8" y2="791.8" stroke="#203868" stroke-width="2" />
<line x1="118" y1="781.2" x2="118" y2="791.8" stroke="#203868" stroke-width="2" />
<line x1="129" y1="785.7" x2="129" y2="796.3" stroke="#203868" stroke-width="2" />
<line x1="134" y1="790.4" x2="134" y2="801" stroke="#203868" stroke-width="2" />
<line x1="135.9" y1="790.4" x2="135.9" y2="801" stroke="#203868" stroke-width="2" />
<line x1="154.3" y1="790.4" x2="154.3" y2="801" stroke="#203868" stroke-width="2" />
<line x1="164.2" y1="801.7" x2="164.2" y2="812.3" stroke="#203868" stroke-width="2" />
<line x1="179.2" y1="806.2" x2="179.2" y2="816.8" stroke="#203868" stroke-width="2" />
<line x1="201" y1="816.7" x2="201" y2="827.3" stroke="#203868" stroke-width="2" />
<line x1="204.5" y1="820.1" x2="204.5" y2="830.7" stroke="#203868" stroke-width="2" />
<line x1="208" y1="820.1" x2="208" y2="830.7" stroke="#203868" stroke-width="2" />
<line x1="237" y1="828.2" x2="237" y2="838.8" stroke="#203868" stroke-width="2" />
<line x1="239.2" y1="828.2" x2="239.2" y2="838.8" stroke="#203868" stroke-width="2" />
<line x1="247.3" y1="830.5" x2="247.3" y2="841.1" stroke="#203868" stroke-width="2" />
<line x1="253" y1="832.7" x2="253" y2="843.3" stroke="#203868" stroke-width="2" />
<line x1="256.5" y1="835.1" x2="256.5" y2="845.7" stroke="#203868" stroke-width="2" />
<line x1="284.6" y1="837.7" x2="284.6" y2="848.3" stroke="#203868" stroke-width="2" />
<line x1="298.5" y1="837.7" x2="298.5" y2="848.3" stroke="#203868" stroke-width="2" />
<line x1="299.7" y1="837.7" x2="299.7" y2="848.3" stroke="#203868" stroke-width="2" />
<line x1="300.8" y1="837.7" x2="300.8" y2="848.3" stroke="#203868" stroke-width="2" />
<line x1="319.2" y1="857.7" x2="319.2" y2="868.3" stroke="#203868" stroke-width="2" />
<line x1="343.5" y1="857.7" x2="343.5" y2="868.3" stroke="#203868" stroke-width="2" />
<line x1="345.8" y1="857.7" x2="345.8" y2="868.3" stroke="#203868" stroke-width="2" />
<line x1="348" y1="857.7" x2="348" y2="868.3" stroke="#203868" stroke-width="2" />
<line x1="357.3" y1="857.7" x2="357.3" y2="868.3" stroke="#203868" stroke-width="2" />
<line x1="368.8" y1="857.7" x2="368.8" y2="868.3" stroke="#203868" stroke-width="2" />
<line x1="371.25" y1="857.7" x2="371.25" y2="868.3" stroke="#203868" stroke-width="2" />
<line x1="373.75" y1="857.7" x2="373.75" y2="868.3" stroke="#203868" stroke-width="2" />
<line x1="376.25" y1="860.95" x2="376.25" y2="871.55" stroke="#203868" stroke-width="2" />
<line x1="383.75" y1="862.2" x2="383.75" y2="872.8" stroke="#203868" stroke-width="2" />
<line x1="386.25" y1="862.2" x2="386.25" y2="872.8" stroke="#203868" stroke-width="2" />
<line x1="397.5" y1="873.45" x2="397.5" y2="884.05" stroke="#203868" stroke-width="2" />
<line x1="413.75" y1="882.2" x2="413.75" y2="892.8" stroke="#203868" stroke-width="2" />
<line x1="417.5" y1="882.2" x2="417.5" y2="892.8" stroke="#203868" stroke-width="2" />
<line x1="421.25" y1="884.7" x2="421.25" y2="895.3" stroke="#203868" stroke-width="2" />
<line x1="425" y1="890.95" x2="425" y2="901.55" stroke="#203868" stroke-width="2" />
<line x1="427.5" y1="890.95" x2="427.5" y2="901.55" stroke="#203868" stroke-width="2" />
<line x1="432.5" y1="890.95" x2="432.5" y2="901.55" stroke="#203868" stroke-width="2" />
<line x1="445" y1="890.95" x2="445" y2="901.55" stroke="#203868" stroke-width="2" />
<line x1="447.5" y1="890.95" x2="447.5" y2="901.55" stroke="#203868" stroke-width="2" />
<line x1="452.5" y1="890.95" x2="452.5" y2="901.55" stroke="#203868" stroke-width="2" />
<line x1="462.5" y1="890.95" x2="462.5" y2="901.55" stroke="#203868" stroke-width="2" />
<line x1="465" y1="890.95" x2="465" y2="901.55" stroke="#203868" stroke-width="2" />
<line x1="467.5" y1="890.95" x2="467.5" y2="901.55" stroke="#203868" stroke-width="2" />
<line x1="471.25" y1="890.95" x2="471.25" y2="901.55" stroke="#203868" stroke-width="2" />
<line x1="473.75" y1="890.95" x2="473.75" y2="901.55" stroke="#203868" stroke-width="2" />
<line x1="487.2" y1="890.95" x2="487.2" y2="901.55" stroke="#203868" stroke-width="2" />
<path d="M90.9 775.2 H157.4 V785.4 H383.4 V796.3 H430.8 V813 H488" fill="none" stroke="#9a0f33" stroke-width="2.5" stroke-linejoin="miter" stroke-linecap="butt"/>
<line x1="430" y1="796.3" x2="437.7" y2="796.3" stroke="#9a0f33" stroke-width="2.4" />
<line x1="102.4" y1="769.9" x2="102.4" y2="780.5" stroke="#9a0f33" stroke-width="2" />
<line x1="107" y1="769.9" x2="107" y2="780.5" stroke="#9a0f33" stroke-width="2" />
<line x1="108.2" y1="769.9" x2="108.2" y2="780.5" stroke="#9a0f33" stroke-width="2" />
<line x1="117.4" y1="769.9" x2="117.4" y2="780.5" stroke="#9a0f33" stroke-width="2" />
<line x1="334" y1="780.1" x2="334" y2="790.7" stroke="#9a0f33" stroke-width="2" />
<line x1="382.6" y1="780.1" x2="382.6" y2="790.7" stroke="#9a0f33" stroke-width="2" />
<line x1="407.9" y1="791" x2="407.9" y2="801.6" stroke="#9a0f33" stroke-width="2" />
<line x1="410.6" y1="791" x2="410.6" y2="801.6" stroke="#9a0f33" stroke-width="2" />
<line x1="413.3" y1="791" x2="413.3" y2="801.6" stroke="#9a0f33" stroke-width="2" />
<line x1="417.3" y1="791" x2="417.3" y2="801.6" stroke="#9a0f33" stroke-width="2" />
<line x1="421.4" y1="791" x2="421.4" y2="801.6" stroke="#9a0f33" stroke-width="2" />
<line x1="429.4" y1="791" x2="429.4" y2="801.6" stroke="#9a0f33" stroke-width="2" />
<line x1="432.1" y1="807.7" x2="432.1" y2="818.3" stroke="#9a0f33" stroke-width="2" />
<line x1="441" y1="807.7" x2="441" y2="818.3" stroke="#9a0f33" stroke-width="2" />
<line x1="442" y1="807.7" x2="442" y2="818.3" stroke="#9a0f33" stroke-width="2" />
<line x1="443" y1="807.7" x2="443" y2="818.3" stroke="#9a0f33" stroke-width="2" />
<line x1="444" y1="807.7" x2="444" y2="818.3" stroke="#9a0f33" stroke-width="2" />
<line x1="445" y1="807.7" x2="445" y2="818.3" stroke="#9a0f33" stroke-width="2" />
<line x1="446" y1="807.7" x2="446" y2="818.3" stroke="#9a0f33" stroke-width="2" />
<line x1="447" y1="807.7" x2="447" y2="818.3" stroke="#9a0f33" stroke-width="2" />
<line x1="454" y1="807.7" x2="454" y2="818.3" stroke="#9a0f33" stroke-width="2" />
<line x1="458.4" y1="807.7" x2="458.4" y2="818.3" stroke="#9a0f33" stroke-width="2" />
<line x1="466.4" y1="807.7" x2="466.4" y2="818.3" stroke="#9a0f33" stroke-width="2" />
<line x1="472.4" y1="807.7" x2="472.4" y2="818.3" stroke="#9a0f33" stroke-width="2" />
<line x1="482.4" y1="807.7" x2="482.4" y2="818.3" stroke="#9a0f33" stroke-width="2" />
</svg>
</body></html>
